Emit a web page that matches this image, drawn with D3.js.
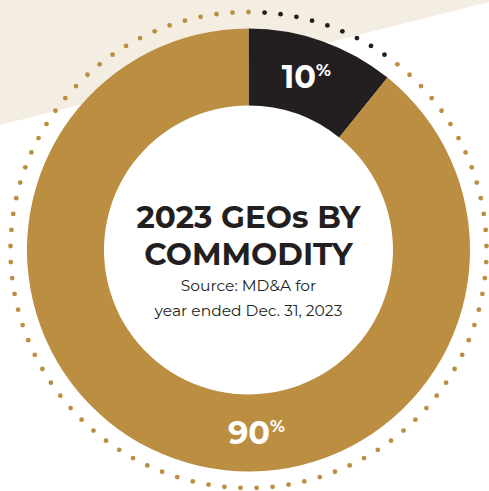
<!DOCTYPE html>
<html><head><meta charset="utf-8">
<script src="https://cdn.jsdelivr.net/npm/d3@7"></script>
<style>html,body{margin:0;padding:0;background:#fff;}svg{display:block;}</style>
</head><body>
<svg id="c" width="489" height="491"></svg>
<script>
const categories = ["Other", "Gold"];
const values = [10.8, 89.2];
const labels = ["10", "90"];
const colors = ["#231f20", "#bb8e41"];
const titleLines = ["2023 GEOs BY", "COMMODITY"];
const sourceLines = ["Source: MD&A for", "year ended Dec. 31, 2023"];
const dotCount = 93;

const cx = 248.5, cy = 250;
const rOuter = 221.5, rInner = 144.5, rDots = 238;
const svg = d3.select("#c");

// background beige band
svg.append("path")
  .attr("d", d3.line()([[0,0],[489,0],[489,2],[0,125]]))
  .attr("fill", "#f3ede2");

const g = svg.append("g").attr("transform", `translate(${cx},${cy})`);

const pie = d3.pie().sort(null).value(d => d);
const arcs = pie(values);
const arc = d3.arc().innerRadius(rInner).outerRadius(rOuter);

g.append("circle").attr("r", rInner).attr("fill", "#fff");

g.selectAll("path.slice").data(arcs).join("path")
  .attr("class", "slice")
  .attr("d", arc)
  .attr("fill", (d, i) => colors[i]);

// dotted outer ring
const darkEnd = (+labels[0]) / 100 * 2 * Math.PI;
const dotAngle = d3.scaleLinear().domain([0, dotCount]).range([0, 2 * Math.PI]);
g.selectAll("circle.dot").data(d3.range(dotCount)).join("circle")
  .attr("class", "dot")
  .attr("cx", i => d3.pointRadial(dotAngle(i), rDots)[0])
  .attr("cy", i => d3.pointRadial(dotAngle(i), rDots)[1])
  .attr("r", 2.4)
  .attr("fill", i => (dotAngle(i) > 0 && dotAngle(i) <= darkEnd) ? colors[0] : colors[1]);

// labels
const font = "Montserrat, 'Open Sans', sans-serif";
const positions = [arc.centroid(arcs[0]), d3.pointRadial(Math.PI - 0.06, (rInner + rOuter) / 2)];
labels.forEach((t, i) => {
  const [x, y] = positions[i];
  const txt = g.append("text")
    .attr("x", x - 3).attr("y", y + 11)
    .attr("text-anchor", "middle")
    .attr("fill", "#fff")
    .attr("font-family", font)
    .attr("font-weight", 700)
    .attr("font-size", 32);
  txt.append("tspan").text(t);
  txt.append("tspan").text("%").attr("font-size", 17).attr("dy", -12);
});

// center title
titleLines.forEach((t, i) => {
  g.append("text")
    .attr("x", 0).attr("y", -22 + i * 37)
    .attr("text-anchor", "middle")
    .attr("fill", "#231f20")
    .attr("font-family", font)
    .attr("font-weight", 700)
    .attr("font-size", 31)
    .text(t);
});
sourceLines.forEach((t, i) => {
  g.append("text")
    .attr("x", 0).attr("y", 41 + i * 25)
    .attr("text-anchor", "middle")
    .attr("fill", "#231f20")
    .attr("font-family", font)
    .attr("font-weight", 400)
    .attr("font-size", 15.5)
    .text(t);
});
</script>
</body></html>
